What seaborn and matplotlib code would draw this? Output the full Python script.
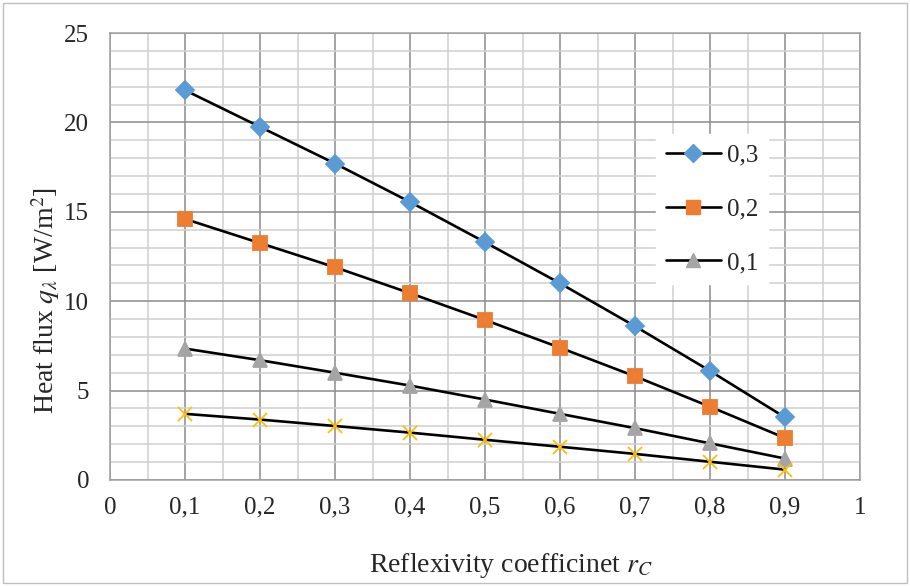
import matplotlib
matplotlib.use("Agg")
import matplotlib.pyplot as plt
from matplotlib.lines import Line2D
from matplotlib.patches import Rectangle
from matplotlib.ticker import MultipleLocator, FuncFormatter
import seaborn as sns
import pandas as pd

rc = [0.1, 0.2, 0.3, 0.4, 0.5, 0.6, 0.7, 0.8, 0.9]
q_03 = [21.8, 19.75, 17.7, 15.55, 13.3, 11.0, 8.6, 6.1, 3.5]
q_02 = [14.6, 13.25, 11.9, 10.45, 8.95, 7.4, 5.8, 4.1, 2.35]
q_01 = [7.35, 6.7, 6.0, 5.28, 4.5, 3.7, 2.9, 2.05, 1.2]
q_00 = [3.7, 3.38, 3.02, 2.65, 2.25, 1.86, 1.46, 1.02, 0.58]

series = ["0,3", "0,2", "0,1", "x"]
values = [q_03, q_02, q_01, q_00]
colors = ["#5B9BD5", "#ED7D31", "#A5A5A5", "#FFC000"]
markers = ["D", "s", "^", "x"]
msizes = [9, 10, 10, 10]

rows = []
for s, v in zip(series, values):
    for x, y in zip(rc, v):
        rows.append({"rc": x, "q": y, "series": s})
df = pd.DataFrame(rows)

sns.set_style("white")
plt.rcParams["font.family"] = ["Liberation Serif", "DejaVu Serif"]
plt.rcParams["mathtext.fontset"] = "stix"

fig = plt.figure(figsize=(9.10, 5.86), dpi=100)
ax = fig.add_axes([110 / 910, 1 - 480 / 586, 750 / 910, 447 / 586])

for s, c, m, ms in zip(series, colors, markers, msizes):
    sub = df[df["series"] == s]
    sns.lineplot(data=sub, x="rc", y="q", ax=ax, color="black", lw=1.9,
                 zorder=3, legend=False)
    ax.plot(sub["rc"], sub["q"], ls="none", marker=m, ms=ms, color=c,
            mec=c, mew=1.3, zorder=4)

ax.set_xlim(0, 1)
ax.set_ylim(0, 25)
ax.xaxis.set_major_locator(MultipleLocator(0.1))
ax.xaxis.set_minor_locator(MultipleLocator(0.05))
ax.yaxis.set_major_locator(MultipleLocator(5))
ax.yaxis.set_minor_locator(MultipleLocator(1))
fmt = FuncFormatter(lambda v, p: ("%g" % round(v, 2)).replace(".", ","))
ax.xaxis.set_major_formatter(fmt)
ax.grid(which="major", color="#8c8c8c", lw=1.1)
ax.grid(which="minor", color="#d0d0d0", lw=1.1)
ax.set_axisbelow(True)
for sp in ax.spines.values():
    sp.set_color("#a0a0a0")
    sp.set_linewidth(1.1)
ax.tick_params(which="major", direction="out", length=5, color="#a0a0a0",
               labelsize=18)
ax.tick_params(axis="y", pad=10)
ax.tick_params(axis="x", pad=7)
ax.tick_params(which="minor", length=0)

ax.set_xlabel("Reflexivity coefficinet $r_C$", fontsize=20)
ax.xaxis.set_label_coords((511 - 110) / 750, -(572 - 480) / 447)
ax.xaxis.label.set_va("baseline")
ax.set_ylabel("Heat flux $q_\\lambda$ [W/m$^2$]", fontsize=20)
ax.yaxis.set_label_coords(-(110 - 46) / 750, (480 - 300) / 447)
ax.yaxis.label.set_va("center")

handles = [Line2D([], [], color="black", lw=1.9, marker=m, ms=ms, mfc=c, mec=c)
           for c, m, ms in zip(colors[:3], markers[:3], msizes[:3])]
leg = ax.legend(handles, series[:3], loc="center",
                bbox_to_anchor=((712 - 110) / 750, (480 - 209) / 447),
                frameon=True, fontsize=18, labelspacing=1.25,
                handlelength=2.2, handletextpad=0.25, borderpad=0.4)
leg.get_frame().set_edgecolor("white")
leg.get_frame().set_facecolor("white")
leg.get_frame().set_alpha(1)
leg.get_frame().set_boxstyle("square", pad=0)

fig.patches.append(Rectangle((3 / 910, 3 / 586), 904 / 910, 580 / 586,
                             transform=fig.transFigure, fill=False,
                             edgecolor="#bfbfbf", lw=1))

fig.savefig("out.png", dpi=100)
